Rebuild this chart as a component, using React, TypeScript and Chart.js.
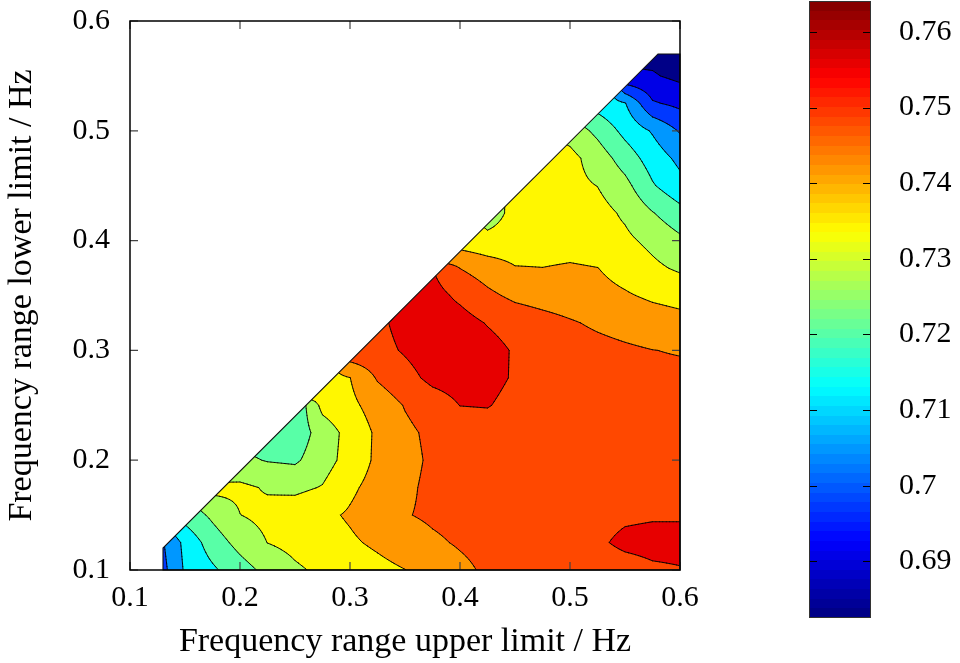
import React, { useEffect, useRef } from "react";
import { Chart, registerables } from "chart.js";

Chart.register(...registerables);

// ---------- data ----------
// grid of the measured surface: upper limit (x) and lower limit (y), in Hz
const X_GRID = [0.1, 0.125, 0.15, 0.175, 0.2, 0.225, 0.25, 0.275, 0.3, 0.325, 0.35, 0.375, 0.4, 0.425, 0.45, 0.475, 0.5, 0.525, 0.55, 0.575, 0.6];
const Y_GRID = [0.1, 0.125, 0.15, 0.175, 0.2, 0.225, 0.25, 0.275, 0.3, 0.325, 0.35, 0.375, 0.4, 0.425, 0.45, 0.475, 0.5, 0.525, 0.55, 0.575];
const n = null;
// Z_VALUES[row for Y_GRID][col for X_GRID]
const Z_VALUES = [
  [n, 0.7003, 0.7131, 0.7183, 0.7238, 0.7288, 0.7330, 0.7355, 0.7375, 0.7394, 0.7413, 0.7442, 0.7471, 0.7498, 0.7509, 0.7516, 0.7520, 0.7524, 0.7531, 0.7549, 0.7556],
  [n, 0.7020, 0.7141, 0.7231, 0.7292, 0.7342, 0.7362, 0.7383, 0.7404, 0.7426, 0.7451, 0.7476, 0.7494, 0.7509, 0.7516, 0.7524, 0.7531, 0.7549, 0.7575, 0.7582, 0.7582],
  [n, 0.7144, 0.7224, 0.7282, 0.7340, 0.7361, 0.7380, 0.7399, 0.7422, 0.7453, 0.7483, 0.7498, 0.7509, 0.7516, 0.7520, 0.7524, 0.7531, 0.7538, 0.7549, 0.7553, 0.7553],
  [n, n, 0.7269, 0.7363, 0.7356, 0.7334, 0.7326, 0.7345, 0.7401, 0.7440, 0.7474, 0.7502, 0.7513, 0.7520, 0.7524, 0.7527, 0.7531, 0.7534, 0.7538, 0.7542, 0.7542],
  [n, n, n, 0.7250, 0.7283, 0.7264, 0.7257, 0.7310, 0.7369, 0.7428, 0.7466, 0.7498, 0.7513, 0.7520, 0.7524, 0.7527, 0.7531, 0.7531, 0.7531, 0.7531, 0.7531],
  [n, n, n, n, 0.7239, 0.7232, 0.7224, 0.7300, 0.7367, 0.7426, 0.7472, 0.7502, 0.7520, 0.7524, 0.7516, 0.7516, 0.7520, 0.7524, 0.7524, 0.7524, 0.7524],
  [n, n, n, n, n, 0.7224, 0.7206, 0.7363, 0.7397, 0.7444, 0.7491, 0.7524, 0.7561, 0.7564, 0.7538, 0.7524, 0.7516, 0.7513, 0.7509, 0.7505, 0.7502],
  [n, n, n, n, n, n, 0.7680, 0.7385, 0.7413, 0.7494, 0.7536, 0.7578, 0.7589, 0.7582, 0.7553, 0.7531, 0.7520, 0.7513, 0.7505, 0.7502, 0.7502],
  [n, n, n, n, n, n, n, 0.7370, 0.7540, 0.7538, 0.7567, 0.7597, 0.7597, 0.7586, 0.7553, 0.7531, 0.7520, 0.7509, 0.7498, 0.7488, 0.7483],
  [n, n, n, n, n, n, n, n, 0.7531, 0.7545, 0.7582, 0.7597, 0.7589, 0.7556, 0.7531, 0.7513, 0.7494, 0.7476, 0.7461, 0.7447, 0.7436],
  [n, n, n, n, n, n, n, n, n, 0.7458, 0.7582, 0.7586, 0.7545, 0.7502, 0.7472, 0.7458, 0.7447, 0.7436, 0.7421, 0.7403, 0.7392],
  [n, n, n, n, n, n, n, n, n, n, 0.7575, 0.7560, 0.7486, 0.7453, 0.7418, 0.7415, 0.7423, 0.7415, 0.7388, 0.7356, 0.7330],
  [n, n, n, n, n, n, n, n, n, n, n, 0.7246, 0.7378, 0.7363, 0.7370, 0.7374, 0.7378, 0.7370, 0.7356, 0.7323, 0.7283],
  [n, n, n, n, n, n, n, n, n, n, n, n, 0.7385, 0.7305, 0.7363, 0.7378, 0.7374, 0.7367, 0.7330, 0.7272, 0.7221],
  [n, n, n, n, n, n, n, n, n, n, n, n, n, 0.7340, 0.7340, 0.7370, 0.7359, 0.7340, 0.7290, 0.7202, 0.7144],
  [n, n, n, n, n, n, n, n, n, n, n, n, n, n, 0.7340, 0.7356, 0.7363, 0.7307, 0.7235, 0.7161, 0.7104],
  [n, n, n, n, n, n, n, n, n, n, n, n, n, n, n, 0.7370, 0.7312, 0.7250, 0.7174, 0.7115, 0.7042],
  [n, n, n, n, n, n, n, n, n, n, n, n, n, n, n, n, 0.7232, 0.7164, 0.7126, 0.6984, 0.6958],
  [n, n, n, n, n, n, n, n, n, n, n, n, n, n, n, n, n, 0.7268, 0.6910, 0.6910, 0.6885],
  [n, n, n, n, n, n, n, n, n, n, n, n, n, n, n, n, n, n, 0.6896, 0.6874, 0.6859],
];
// contour levels of the filled plot
const CONTOUR_LEVELS = [0.6903, 0.6976, 0.7049, 0.7122, 0.7195, 0.7268, 0.7341, 0.7414, 0.7487, 0.756];
// outline of the region where the surface is defined: [upper, lower]
const DOMAIN_X = [0.13, 0.6, 0.6, 0.58, 0.13];
const DOMAIN_Y = [0.1, 0.1, 0.57, 0.57, 0.12];

const X_TICKS = [0.1, 0.2, 0.3, 0.4, 0.5, 0.6];
const Y_TICKS = [0.1, 0.2, 0.3, 0.4, 0.5, 0.6];
const CBAR_TICKS = [0.69, 0.7, 0.71, 0.72, 0.73, 0.74, 0.75, 0.76];
const CBAR_MIN = 0.6825;
const CBAR_MAX = 0.7641;
const X_TITLE = "Frequency range upper limit / Hz";
const Y_TITLE = "Frequency range lower limit / Hz";

// ---------- styling helpers ----------
const FONT = "'Liberation Serif', 'Times New Roman', serif";
const CMAP_STEPS = 64;

function clamp01(v: number) {
  return Math.max(0, Math.min(1, v));
}
function jet(t: number): [number, number, number] {
  const r = clamp01(1.5 - Math.abs(4 * t - 3));
  const g = clamp01(1.5 - Math.abs(4 * t - 2));
  const b = clamp01(1.5 - Math.abs(4 * t - 1));
  return [Math.round(r * 255), Math.round(g * 255), Math.round(b * 255)];
}
const CMAP: [number, number, number][] = [];
for (let k = 0; k < CMAP_STEPS; k++) CMAP.push(jet((k + 0.5) / CMAP_STEPS));
function cmapIndex(v: number) {
  return Math.max(0, Math.min(CMAP_STEPS - 1, Math.floor(((v - CBAR_MIN) / (CBAR_MAX - CBAR_MIN)) * CMAP_STEPS)));
}
const BAND_COLORS = [CBAR_MIN, ...CONTOUR_LEVELS].map((v) => CMAP[cmapIndex(v)]);
function bandOf(z: number) {
  let b = 0;
  for (const L of CONTOUR_LEVELS) if (z >= L) b++;
  return b;
}
function fmt(v: any) {
  return String(Number(Number(v).toFixed(2)));
}
function cellIndex(grid: number[], v: number): [number, number] {
  const m = grid.length;
  if (v <= grid[0]) return [0, 0];
  if (v >= grid[m - 1]) return [m - 2, 1];
  let k = 0;
  while (k < m - 2 && v > grid[k + 1]) k++;
  return [k, (v - grid[k]) / (grid[k + 1] - grid[k])];
}

function domainPath(ctx: CanvasRenderingContext2D, xs: any, ys: any) {
  ctx.beginPath();
  for (let k = 0; k < DOMAIN_X.length; k++) {
    const px = xs.getPixelForValue(DOMAIN_X[k]);
    const py = ys.getPixelForValue(DOMAIN_Y[k]);
    if (k === 0) ctx.moveTo(px, py);
    else ctx.lineTo(px, py);
  }
  ctx.closePath();
}

const contourPlugin = {
  id: "contourf",
  beforeDatasetsDraw(chart: any) {
    const { ctx, chartArea: a, scales } = chart;
    const xs = scales.x;
    const ys = scales.y;
    const w = Math.ceil(a.right - a.left);
    const h = Math.ceil(a.bottom - a.top);
    const off = document.createElement("canvas");
    off.width = w;
    off.height = h;
    const octx = off.getContext("2d")!;
    const img = octx.createImageData(w, h);
    const ci = new Int32Array(w);
    const ct = new Float64Array(w);
    for (let px = 0; px < w; px++) {
      const [i, t] = cellIndex(X_GRID, xs.getValueForPixel(a.left + px + 0.5));
      ci[px] = i;
      ct[px] = t;
    }
    for (let py = 0; py < h; py++) {
      const [j, fy] = cellIndex(Y_GRID, ys.getValueForPixel(a.top + py + 0.5));
      const r0 = Z_VALUES[j];
      const r1 = Z_VALUES[j + 1];
      for (let px = 0; px < w; px++) {
        const i = ci[px];
        const fx = ct[px];
        const z00 = r0[i], z10 = r0[i + 1], z01 = r1[i], z11 = r1[i + 1];
        if (z00 == null || z10 == null || z01 == null || z11 == null) continue;
        const z = (1 - fy) * ((1 - fx) * z00 + fx * z10) + fy * ((1 - fx) * z01 + fx * z11);
        const c = BAND_COLORS[bandOf(z)];
        const o = (py * w + px) * 4;
        img.data[o] = c[0];
        img.data[o + 1] = c[1];
        img.data[o + 2] = c[2];
        img.data[o + 3] = 255;
      }
    }
    octx.putImageData(img, 0, 0);

    ctx.save();
    domainPath(ctx, xs, ys);
    ctx.clip();
    ctx.drawImage(off, a.left, a.top);

    // contour lines (marching squares on subdivided bilinear cells)
    const S = 8;
    ctx.beginPath();
    for (let j = 0; j < Y_GRID.length - 1; j++) {
      for (let i = 0; i < X_GRID.length - 1; i++) {
        const z00 = Z_VALUES[j][i], z10 = Z_VALUES[j][i + 1], z01 = Z_VALUES[j + 1][i], z11 = Z_VALUES[j + 1][i + 1];
        if (z00 == null || z10 == null || z01 == null || z11 == null) continue;
        const x0 = X_GRID[i], x1 = X_GRID[i + 1], y0 = Y_GRID[j], y1 = Y_GRID[j + 1];
        const val = (fx: number, fy: number) =>
          (1 - fy) * ((1 - fx) * z00 + fx * z10) + fy * ((1 - fx) * z01 + fx * z11);
        const P = (fx: number, fy: number): [number, number] => [
          xs.getPixelForValue(x0 + (x1 - x0) * fx),
          ys.getPixelForValue(y0 + (y1 - y0) * fy),
        ];
        for (let sj = 0; sj < S; sj++) {
          for (let si = 0; si < S; si++) {
            const fa = si / S, fb = (si + 1) / S, ga = sj / S, gb = (sj + 1) / S;
            const bl = val(fa, ga), br = val(fb, ga), tr = val(fb, gb), tl = val(fa, gb);
            for (const L of CONTOUR_LEVELS) {
              const hb = bl >= L, hr = br >= L, ht = tr >= L, hl = tl >= L;
              if (hb === hr && hr === ht && ht === hl) continue;
              const pts: { [k: string]: [number, number] } = {};
              if (hb !== hr) pts.b = P(fa + ((L - bl) / (br - bl)) * (fb - fa), ga);
              if (hr !== ht) pts.r = P(fb, ga + ((L - br) / (tr - br)) * (gb - ga));
              if (ht !== hl) pts.t = P(fa + ((L - tl) / (tr - tl)) * (fb - fa), gb);
              if (hl !== hb) pts.l = P(fa, ga + ((L - bl) / (tl - bl)) * (gb - ga));
              const keys = Object.keys(pts);
              const seg = (p: [number, number], q: [number, number]) => {
                ctx.moveTo(p[0], p[1]);
                ctx.lineTo(q[0], q[1]);
              };
              if (keys.length === 2) {
                seg(pts[keys[0]], pts[keys[1]]);
              } else if (keys.length === 4) {
                const center = (bl + br + tr + tl) / 4 >= L;
                if (center === hb) {
                  seg(pts.b, pts.r);
                  seg(pts.t, pts.l);
                } else {
                  seg(pts.l, pts.b);
                  seg(pts.r, pts.t);
                }
              }
            }
          }
        }
      }
    }
    ctx.strokeStyle = "#000";
    ctx.lineWidth = 0.9;
    ctx.lineJoin = "round";
    ctx.lineCap = "round";
    ctx.stroke();
    ctx.restore();

    // outline of the defined region
    ctx.save();
    domainPath(ctx, xs, ys);
    ctx.strokeStyle = "#111";
    ctx.lineWidth = 1.1;
    ctx.stroke();
    ctx.restore();
  },
  afterDraw(chart: any) {
    const { ctx, chartArea: a, scales } = chart;
    const xs = scales.x;
    const ys = scales.y;
    ctx.save();
    ctx.strokeStyle = "#444";
    ctx.lineWidth = 1.2;
    ctx.beginPath();
    const TL = 8;
    for (const v of X_TICKS) {
      const px = xs.getPixelForValue(v);
      ctx.moveTo(px, a.bottom);
      ctx.lineTo(px, a.bottom - TL);
      ctx.moveTo(px, a.top);
      ctx.lineTo(px, a.top + TL);
    }
    for (const v of Y_TICKS) {
      const py = ys.getPixelForValue(v);
      ctx.moveTo(a.left, py);
      ctx.lineTo(a.left + TL, py);
      ctx.moveTo(a.right, py);
      ctx.lineTo(a.right - TL, py);
    }
    ctx.stroke();
    ctx.strokeStyle = "#000";
    ctx.lineWidth = 1.5;
    ctx.strokeRect(a.left, a.top, a.right - a.left, a.bottom - a.top);
    ctx.restore();
  },
};

const colorbarPlugin = {
  id: "colorbar",
  beforeDatasetsDraw(chart: any) {
    const { ctx, chartArea: a, scales } = chart;
    const ys = scales.y;
    ctx.save();
    for (let k = 0; k < CMAP_STEPS; k++) {
      const v0 = CBAR_MIN + ((CBAR_MAX - CBAR_MIN) * k) / CMAP_STEPS;
      const v1 = CBAR_MIN + ((CBAR_MAX - CBAR_MIN) * (k + 1)) / CMAP_STEPS;
      const p0 = Math.round(ys.getPixelForValue(v0));
      const p1 = Math.round(ys.getPixelForValue(v1));
      const c = CMAP[k];
      ctx.fillStyle = `rgb(${c[0]},${c[1]},${c[2]})`;
      ctx.fillRect(a.left, p1, a.right - a.left, p0 - p1);
    }
    ctx.strokeStyle = "#000";
    ctx.lineWidth = 1.2;
    ctx.beginPath();
    for (const v of CBAR_TICKS) {
      const py = Math.round(ys.getPixelForValue(v)) + 0.5;
      ctx.moveTo(a.left, py);
      ctx.lineTo(a.left + 8, py);
      ctx.moveTo(a.right, py);
      ctx.lineTo(a.right - 8, py);
    }
    ctx.stroke();
    ctx.strokeStyle = "#333";
    ctx.lineWidth = 1;
    ctx.strokeRect(Math.round(a.left) + 0.5, Math.round(a.top) + 0.5, Math.round(a.right - a.left) - 1, Math.round(a.bottom - a.top) - 1);
    ctx.restore();
  },
};

export default function App() {
  const mainRef = useRef<HTMLCanvasElement>(null);
  const barRef = useRef<HTMLCanvasElement>(null);

  useEffect(() => {
    const tickFont = { family: FONT, size: 30 };
    const titleFont = { family: FONT, size: 34 };
    const main = new Chart(mainRef.current as HTMLCanvasElement, {
      type: "scatter",
      data: { datasets: [{ data: [], pointRadius: 0 }] },
      options: {
        animation: false,
        responsive: false,
        maintainAspectRatio: false,
        layout: { padding: { left: 0, top: 21, right: 120, bottom: 0 } },
        plugins: { legend: { display: false }, tooltip: { enabled: false } },
        scales: {
          x: {
            type: "linear",
            min: 0.1,
            max: 0.6,
            afterBuildTicks: (ax: any) => {
              ax.ticks = X_TICKS.map((value) => ({ value }));
            },
            afterFit: (ax: any) => {
              ax.height = 93;
              ax.paddingLeft = 0;
              ax.paddingRight = 0;
            },
            grid: { display: false, drawTicks: false },
            border: { display: false },
            ticks: { color: "#000", font: tickFont, padding: 10, maxRotation: 0, autoSkip: false, callback: fmt },
            title: { display: true, text: X_TITLE, color: "#000", font: titleFont, padding: { top: 0, bottom: 1 } },
          },
          y: {
            type: "linear",
            min: 0.1,
            max: 0.6,
            afterBuildTicks: (ax: any) => {
              ax.ticks = Y_TICKS.map((value) => ({ value }));
            },
            afterFit: (ax: any) => {
              ax.width = 130;
              ax.paddingTop = 0;
              ax.paddingBottom = 0;
            },
            grid: { display: false, drawTicks: false },
            border: { display: false },
            ticks: { color: "#000", font: tickFont, padding: 20, autoSkip: false, callback: fmt },
            title: { display: true, text: Y_TITLE, color: "#000", font: titleFont, padding: { top: 2, bottom: 0 } },
          },
        },
      } as any,
      plugins: [contourPlugin],
    });

    const bar = new Chart(barRef.current as HTMLCanvasElement, {
      type: "scatter",
      data: { datasets: [{ data: [], pointRadius: 0 }] },
      options: {
        animation: false,
        responsive: false,
        maintainAspectRatio: false,
        layout: { padding: { left: 9, top: 1, right: 0, bottom: 45 } },
        plugins: { legend: { display: false }, tooltip: { enabled: false } },
        scales: {
          x: { display: false, min: 0, max: 1 },
          y: {
            type: "linear",
            position: "right",
            min: CBAR_MIN,
            max: CBAR_MAX,
            afterBuildTicks: (ax: any) => {
              ax.ticks = CBAR_TICKS.map((value) => ({ value }));
            },
            afterFit: (ax: any) => {
              ax.width = 89;
              ax.paddingTop = 0;
              ax.paddingBottom = 0;
            },
            grid: { display: false, drawTicks: false },
            border: { display: false },
            ticks: { color: "#000", font: tickFont, padding: 28, autoSkip: false, callback: fmt },
          },
        },
      } as any,
      plugins: [colorbarPlugin],
    });

    return () => {
      main.destroy();
      bar.destroy();
    };
  }, []);

  return (
    <div style={{ position: "absolute", left: 0, top: 0, width: 960, height: 663, background: "#fff", overflow: "hidden" }}>
      <canvas ref={mainRef} width={800} height={663} style={{ position: "absolute", left: 0, top: 0, width: 800, height: 663 }} />
      <canvas ref={barRef} width={160} height={663} style={{ position: "absolute", left: 800, top: 0, width: 160, height: 663 }} />
    </div>
  );
}
